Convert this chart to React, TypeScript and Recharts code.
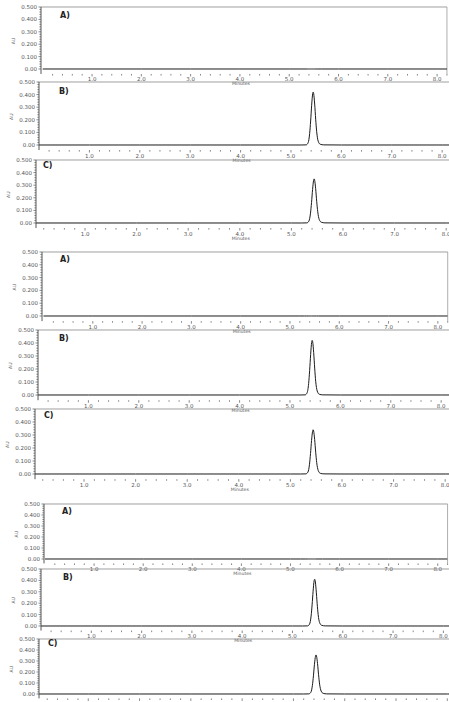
import React from 'react';
import { LineChart, Line, XAxis, YAxis, ReferenceLine } from 'recharts';

// retention time grid (minutes)
const times = [0, 1, 2, 3, 4, 5, 5.2, 5.3, 5.34, 5.37, 5.39, 5.41, 5.43, 5.44, 5.45, 5.47, 5.49, 5.51, 5.54, 5.58, 5.65, 6, 7, 8, 8.2];

// absorbance (AU) for each chromatogram
const blankA1 = [0, 0, 0, 0, 0, 0, 0, 0, 0, 0, 0, 0, 0, 0, 0, 0, 0, 0, 0, 0, 0, 0, 0, 0, 0];
const std1B = [0, 0, 0, 0, 0, 0, 0, 0.001, 0.018, 0.09, 0.19, 0.315, 0.405, 0.42, 0.408, 0.325, 0.205, 0.105, 0.03, 0.006, 0.001, 0, 0, 0, 0];
const smp1C = [0, 0, 0, 0, 0, 0, 0, 0.001, 0.016, 0.078, 0.162, 0.265, 0.338, 0.35, 0.34, 0.272, 0.172, 0.09, 0.027, 0.006, 0.001, 0, 0, 0, 0];
const blankA2 = [0, 0, 0, 0, 0, 0, 0, 0, 0, 0, 0, 0, 0, 0, 0, 0, 0, 0, 0, 0, 0, 0, 0, 0, 0];
const std2B = [0, 0, 0, 0, 0, 0, 0, 0.001, 0.017, 0.088, 0.188, 0.312, 0.404, 0.42, 0.41, 0.327, 0.207, 0.106, 0.031, 0.006, 0.001, 0, 0, 0, 0];
const smp2C = [0, 0, 0, 0, 0, 0, 0, 0.001, 0.015, 0.075, 0.158, 0.258, 0.328, 0.34, 0.331, 0.265, 0.168, 0.087, 0.026, 0.005, 0.001, 0, 0, 0, 0];
const blankA3 = [0, 0, 0, 0, 0, 0, 0, 0, 0, 0, 0, 0, 0, 0, 0, 0, 0, 0, 0, 0, 0, 0, 0, 0, 0];
const std3B = [0, 0, 0, 0, 0, 0, 0, 0.001, 0.017, 0.087, 0.185, 0.305, 0.396, 0.41, 0.4, 0.318, 0.2, 0.102, 0.029, 0.006, 0.001, 0, 0, 0, 0];
const smp3C = [0, 0, 0, 0, 0, 0, 0, 0.001, 0.016, 0.079, 0.165, 0.27, 0.343, 0.355, 0.345, 0.276, 0.175, 0.09, 0.027, 0.006, 0.001, 0, 0, 0, 0];

const xMajorTicks = [1, 2, 3, 4, 5, 6, 7, 8];
const xTickLabels = ['1.0', '2.0', '3.0', '4.0', '5.0', '6.0', '7.0', '8.0'];
const yMajorTicks = [0, 0.1, 0.2, 0.3, 0.4, 0.5];
const yTickLabels = ['0.00', '0.100', '0.200', '0.300', '0.400', '0.500'];
const xTitle = 'Minutes';
const yTitle = 'AU';

const xMinorTicks: number[] = [];
for (let i = 1; i <= 41; i++) xMinorTicks.push(Math.round(i * 2) / 10);
const yMinorTicks: number[] = [];
for (let i = 0; i <= 25; i++) yMinorTicks.push(Math.round(i * 2) / 100);

const FONT = '"DejaVu Sans", sans-serif';
const Y_MIN = -0.04;
const Y_MAX = 0.5;
const X_MAX = 8.2;

// layout of the nine panels (pixels)
const panels = [
  { values: blankA1, letter: 'A)', top: 7, zero: 69, axisX: 41, x0: -0.035, ppm: 49.3, lx: 60, ly: 15 },
  { values: std1B, letter: 'B)', top: 82, zero: 145, axisX: 39, x0: 0, ppm: 50.4, lx: 59, ly: 91 },
  { values: smp1C, letter: 'C)', top: 160, zero: 223, axisX: 36, x0: 0.05, ppm: 51.6, lx: 43, ly: 165 },
  { values: blankA2, letter: 'A)', top: 252, zero: 316, axisX: 42, x0: -0.03, ppm: 49.3, lx: 60, ly: 259 },
  { values: std2B, letter: 'B)', top: 330, zero: 395, axisX: 38, x0: 0, ppm: 50.4, lx: 59, ly: 338 },
  { values: smp2C, letter: 'C)', top: 409, zero: 474, axisX: 35, x0: 0.05, ppm: 51.6, lx: 44, ly: 415 },
  { values: blankA3, letter: 'A)', top: 504, zero: 559, axisX: 44, x0: -0.02, ppm: 49.1, lx: 62, ly: 511 },
  { values: std3B, letter: 'B)', top: 569, zero: 626, axisX: 41, x0: 0, ppm: 50.3, lx: 63, ly: 577 },
  { values: smp3C, letter: 'C)', top: 639, zero: 694, axisX: 39, x0: 0.04, ppm: 51.3, lx: 48, ly: 643 },
];

const XTick = (props: any) => {
  const { x, y, payload } = props;
  const v = payload.value;
  const idx = xMajorTicks.findIndex((m) => Math.abs(m - v) < 1e-6);
  const major = idx >= 0;
  return (
    <g>
      <line x1={x} x2={x} y1={y} y2={y + (major ? 2.5 : 1.6)} stroke="#555" strokeWidth={0.7} />
      {major && (
        <text x={x} y={y + 7.5} textAnchor="middle" fontSize={5.5} fill="#555" fontFamily={FONT}>
          {xTickLabels[idx]}
        </text>
      )}
      {major && xMajorTicks[idx] === 4 && (
        <text x={x + 1} y={y + 11.5} textAnchor="middle" fontSize={4.6} fill="#555" fontFamily={FONT}>
          {xTitle}
        </text>
      )}
    </g>
  );
};

const YTick = (props: any) => {
  const { x, y, payload } = props;
  const v = payload.value;
  const idx = yMajorTicks.findIndex((m) => Math.abs(m - v) < 1e-6);
  const major = idx >= 0;
  return (
    <g>
      <line x1={x - (major ? 2.5 : 1.6)} x2={x} y1={y} y2={y} stroke="#555" strokeWidth={0.7} />
      {major && (
        <text x={x - 4} y={y + 2} textAnchor="end" fontSize={5.5} fill="#555" fontFamily={FONT}>
          {yTickLabels[idx]}
        </text>
      )}
    </g>
  );
};

const Panel = ({ p }: { p: (typeof panels)[number] }) => {
  const mt = 4;
  const unit = (p.zero - p.top) / Y_MAX;
  const plotH = (Y_MAX - Y_MIN) * unit;
  const plotW = (X_MAX - p.x0) * p.ppm;
  const xAxisH = 16;
  const w = p.axisX + plotW + 4;
  const h = mt + plotH + xAxisH;
  const data = times.map((t, i) => ({ t, v: p.values[i] }));
  const ticks = xMinorTicks.filter((t) => t >= p.x0 + 0.01 && t <= X_MAX + 1e-6);
  return (
    <div style={{ position: 'absolute', left: 0, top: p.top - mt }}>
      <LineChart width={w} height={h} data={data} margin={{ top: mt, right: 4, bottom: 0, left: 0 }}>
        <XAxis
          dataKey="t"
          type="number"
          domain={[p.x0, X_MAX]}
          allowDataOverflow
          ticks={ticks}
          interval={0}
          tickSize={0}
          tickMargin={0}
          tickLine={false}
          axisLine={false}
          height={xAxisH}
          tick={(tp: any) => <XTick {...tp} />}
        />
        <YAxis
          type="number"
          domain={[Y_MIN, Y_MAX]}
          allowDataOverflow
          ticks={yMinorTicks}
          interval={0}
          tickSize={0}
          tickMargin={0}
          tickLine={false}
          width={p.axisX}
          axisLine={{ stroke: '#444', strokeWidth: 0.9 }}
          tick={(tp: any) => <YTick {...tp} />}
        />
        <ReferenceLine y={Y_MAX} stroke="#888" strokeWidth={0.8} />
        <ReferenceLine x={X_MAX} stroke="#999" strokeWidth={0.8} />
        <Line
          type="monotone"
          dataKey="v"
          dot={false}
          stroke="#1a1a1a"
          strokeWidth={1}
          isAnimationActive={false}
        />
      </LineChart>
    </div>
  );
};

export default function App() {
  return (
    <div
      style={{
        position: 'fixed',
        left: 0,
        top: 0,
        width: 449,
        height: 702,
        overflow: 'hidden',
        background: '#fff',
      }}
    >
      {panels.map((p, i) => (
        <Panel key={i} p={p} />
      ))}
      <svg width={449} height={702} style={{ position: 'absolute', left: 0, top: 0, pointerEvents: 'none' }}>
        {panels.map((p, i) => {
          const ay = p.top + 0.55 * (p.zero - p.top);
          const ax = p.axisX - 26;
          return (
            <g key={i}>
              <text x={p.lx} y={p.ly + 3} fontSize={8} fontWeight="bold" fill="#222" fontFamily={FONT}>
                {p.letter}
              </text>
              <text
                x={ax}
                y={ay}
                fontSize={4.6}
                fill="#555"
                fontFamily={FONT}
                textAnchor="middle"
                transform={`rotate(-90 ${ax} ${ay})`}
              >
                {yTitle}
              </text>
            </g>
          );
        })}
      </svg>
    </div>
  );
}
